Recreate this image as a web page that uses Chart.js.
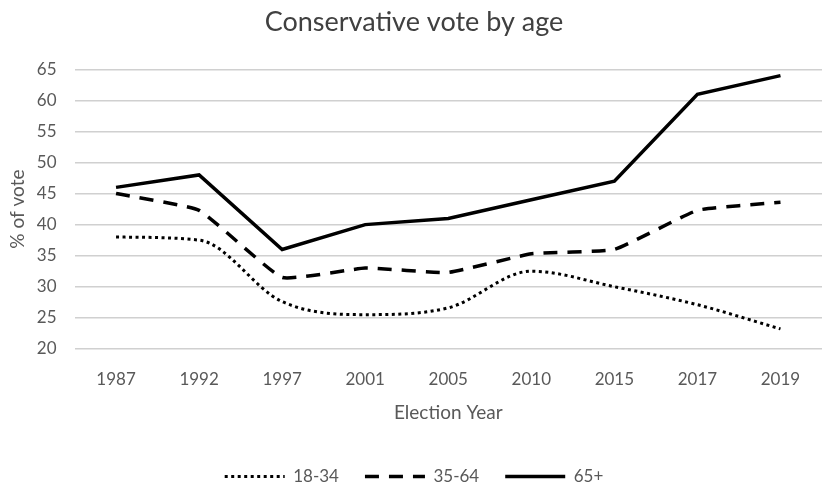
<!DOCTYPE html>
<html>
<head>
<meta charset="utf-8">
<script src="https://cdn.jsdelivr.net/npm/chart.js@4/dist/chart.umd.min.js"></script>
<style>
  html, body { margin: 0; padding: 0; background: #fff; }
  #wrap { width: 826px; height: 488px; }
</style>
</head>
<body>
<div id="wrap"><canvas id="chart"></canvas></div>
<script>
const years = ['1987', '1992', '1997', '2001', '2005', '2010', '2015', '2017', '2019'];
const young = [38, 37.5, 27.6, 25.5, 26.6, 32.5, 30, 27.1, 23.2];
const middle = [45, 42.3, 31.5, 33, 32.3, 35.3, 36, 42.3, 43.6];
const old = [46, 48, 36, 40, 41, 44, 47, 61, 64];
const yTicks = [20, 25, 30, 35, 40, 45, 50, 55, 60, 65];

const font = 'Lato, "Open Sans", sans-serif';
const textColor = '#595959';

const ctx = document.getElementById('chart').getContext('2d');
new Chart(ctx, {
  type: 'line',
  data: {
    labels: years,
    datasets: [
      {
        label: '18-34',
        data: young,
        borderColor: '#000',
        backgroundColor: '#000',
        borderWidth: 3,
        borderDash: [3, 3.5],
        cubicInterpolationMode: 'monotone',
        pointRadius: 0,
        pointStyle: 'line',
      },
      {
        label: '35-64',
        data: middle,
        borderColor: '#000',
        backgroundColor: '#000',
        borderWidth: 3.5,
        borderDash: [14, 10],
        tension: 0.12,
        pointRadius: 0,
        pointStyle: 'line',
      },
      {
        label: '65+',
        data: old,
        borderColor: '#000',
        backgroundColor: '#000',
        borderWidth: 3.5,
        tension: 0,
        pointRadius: 0,
        pointStyle: 'line',
      },
    ],
  },
  options: {
    responsive: true,
    maintainAspectRatio: false,
    animation: false,
    layout: { padding: { left: 6, right: 4, top: 4, bottom: -7 } },
    plugins: {
      title: {
        display: true,
        text: 'Conservative vote by age',
        color: '#404040',
        font: { family: font, size: 27, weight: 'normal' },
        padding: { top: 2, bottom: 31 },
      },
      legend: {
        position: 'bottom',
        labels: {
          usePointStyle: true,
          pointStyleWidth: 60,
          boxHeight: 4,
          color: textColor,
          font: { family: font, size: 17 },
          padding: 26,
          // legend swatches need the dataset dash pattern
          generateLabels: (chart) => {
            const items = Chart.defaults.plugins.legend.labels.generateLabels(chart);
            items.forEach((item) => {
              const ds = chart.data.datasets[item.datasetIndex];
              item.lineDash = ds.borderDash || [];
              item.lineWidth = ds.borderWidth;
            });
            return items;
          },
        },
      },
      tooltip: { enabled: false },
    },
    scales: {
      x: {
        offset: true,
        grid: { display: false },
        border: { display: false },
        ticks: { color: textColor, font: { family: font, size: 17 }, padding: 13 },
        title: {
          display: true,
          text: 'Election Year',
          color: textColor,
          font: { family: font, size: 19 },
          padding: { top: -2, bottom: 18 },
        },
      },
      y: {
        min: 20,
        max: 65,
        afterBuildTicks: (axis) => { axis.ticks = yTicks.map((v) => ({ value: v })); },
        grid: { color: '#d0d0d0', lineWidth: 1.5, drawTicks: false },
        border: { display: false },
        ticks: { color: textColor, font: { family: font, size: 17 }, padding: 18 },
        title: {
          display: true,
          text: '% of vote',
          color: textColor,
          font: { family: font, size: 19 },
          padding: { top: 0, bottom: -10 },
        },
      },
    },
  },
});
</script>
</body>
</html>
